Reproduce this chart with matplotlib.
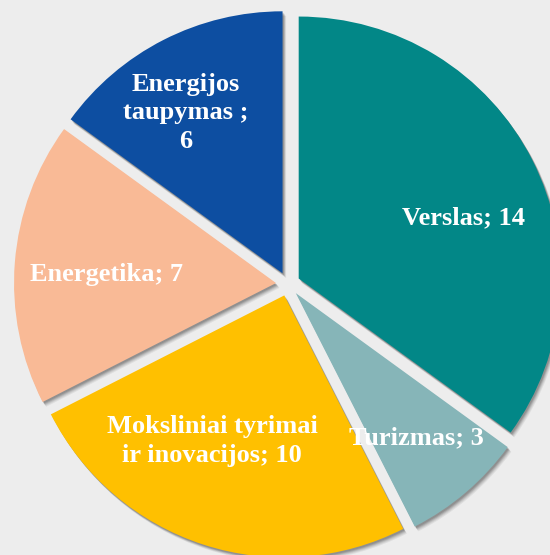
import matplotlib
matplotlib.use('Agg')
import matplotlib.pyplot as plt
import matplotlib.patches as mpatches

labels = ['Verslas; 14', 'Turizmas; 3', 'Moksliniai tyrimai\nir inovacijos; 10',
          'Energetika; 7', 'Energijos\ntaupymas ;\n6']
values = [14, 3, 10, 7, 6]
colors = ['#028787', '#86B5B8', '#FFC000', '#F9BA96', '#0D4EA1']
# label spots relative to the pie centre (px)
label_xy = [(176, 66), (128, -154), (-76, -157), (-181, 9), (-102, 171)]

W, H = 550, 555
cx, cy, R = 288, 271, 262
gap = 12

fig = plt.figure(figsize=(W / 100, H / 100), dpi=100)
fig.patch.set_facecolor('#EDEDED')
ax = fig.add_axes([0, 0, 1, 1])
ax.set_facecolor('#EDEDED')

wedges, _ = ax.pie(values, colors=colors, startangle=90, counterclock=False,
                   explode=[gap] * len(values), radius=R, center=(cx, cy),
                   wedgeprops=dict(linewidth=0), frame=True)

# soft drop shadow under every wedge
for w in wedges:
    w.set_zorder(3)
    for k, a in [(6, 0.06), (5, 0.07), (4, 0.09), (3, 0.12), (2, 0.12)]:
        sh = mpatches.Wedge((w.center[0] + k * 0.6, w.center[1] - k * 0.8), w.r,
                            w.theta1, w.theta2, facecolor='black', alpha=a,
                            linewidth=0, zorder=2)
        ax.add_patch(sh)

for lab, (dx, dy) in zip(labels, label_xy):
    ax.text(cx + dx, cy + dy, lab, ha='center', va='center', color='white',
            family='Liberation Serif', fontweight='bold', fontsize=19,
            linespacing=1.3, zorder=5)

ax.set_xlim(0, W)
ax.set_ylim(0, H)
ax.set_aspect('equal')
ax.axis('off')
fig.savefig('out.png', dpi=100, facecolor=fig.get_facecolor())
